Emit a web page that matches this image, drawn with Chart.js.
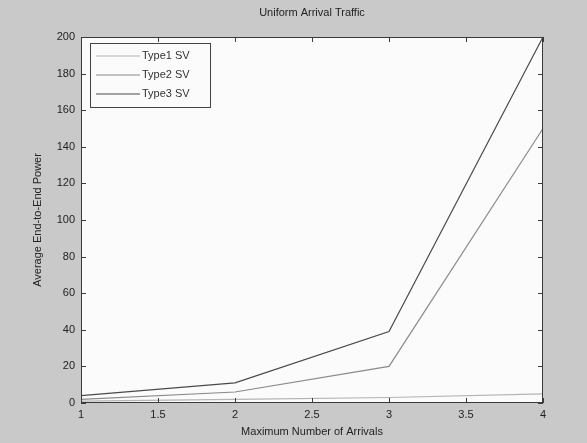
<!DOCTYPE html>
<html>
<head>
<meta charset="utf-8">
<script src="https://cdn.jsdelivr.net/npm/chart.js@4.4.0/dist/chart.umd.min.js"></script>
<style>
  html, body { margin: 0; padding: 0; background: #c9c9c9; }
  canvas { display: block; }
</style>
</head>
<body>
<canvas id="powerChart" width="587" height="443"></canvas>
<script>
// values
const arrivals = [1, 2, 3, 4];
const type1 = [1, 2, 3, 5];
const type2 = [2, 6, 20, 150];
const type3 = [4, 11, 39, 200];
const seriesNames = ['Type1 SV', 'Type2 SV', 'Type3 SV'];
const chartTitle = 'Uniform Arrival Traffic';
const lineColors = ['#b4b4b4', '#8a8a8a', '#4a4a4a'];

const toPoints = (ys) => arrivals.map((x, i) => ({ x: x, y: ys[i] }));

const FONT = { family: 'Liberation Sans, Arial, sans-serif', size: 11 };

// white axes box, MATLAB style inward ticks, title and the legend box
const matlabBox = {
  id: 'matlabBox',
  beforeDraw(chart) {
    const { ctx, chartArea: a } = chart;
    ctx.save();
    ctx.fillStyle = '#fbfbfb';
    ctx.fillRect(a.left, a.top, a.right - a.left, a.bottom - a.top);
    ctx.restore();
  },
  afterDraw(chart) {
    const { ctx, chartArea: a } = chart;
    const xs = chart.scales.x, ys = chart.scales.y;
    ctx.save();
    ctx.strokeStyle = '#3a3a3a';
    ctx.lineWidth = 1;
    ctx.strokeRect(a.left + 0.5, a.top + 0.5, a.right - a.left - 1, a.bottom - a.top - 1);
    ctx.beginPath();
    xs.ticks.forEach(t => {
      const px = Math.round(xs.getPixelForValue(t.value)) + 0.5;
      ctx.moveTo(px, a.bottom); ctx.lineTo(px, a.bottom - 5);
      ctx.moveTo(px, a.top); ctx.lineTo(px, a.top + 5);
    });
    ys.ticks.forEach(t => {
      const py = Math.round(ys.getPixelForValue(t.value)) + 0.5;
      ctx.moveTo(a.left, py); ctx.lineTo(a.left + 5, py);
      ctx.moveTo(a.right, py); ctx.lineTo(a.right - 5, py);
    });
    ctx.stroke();

    ctx.font = FONT.size + 'px ' + FONT.family;
    ctx.fillStyle = '#222';
    ctx.textAlign = 'center';
    ctx.textBaseline = 'middle';
    ctx.fillText(chartTitle, (a.left + a.right) / 2, 13);

    // legend
    const lx = a.left + 9, ly = a.top + 6, lw = 120, lh = 64;
    ctx.fillStyle = '#fbfbfb';
    ctx.fillRect(lx, ly, lw, lh);
    ctx.strokeStyle = '#444';
    ctx.strokeRect(lx + 0.5, ly + 0.5, lw, lh);
    ctx.textAlign = 'left';
    chart.data.datasets.forEach((ds, i) => {
      const y = ly + 13 + i * 19;
      ctx.strokeStyle = ds.borderColor;
      ctx.lineWidth = 1.2;
      ctx.beginPath();
      ctx.moveTo(lx + 6, y); ctx.lineTo(lx + 50, y);
      ctx.stroke();
      ctx.fillStyle = '#333';
      ctx.fillText(ds.label, lx + 52, y);
    });
    ctx.restore();
  }
};

new Chart(document.getElementById('powerChart'), {
  type: 'line',
  data: {
    datasets: [type1, type2, type3].map((ys, i) => ({
      label: seriesNames[i],
      data: toPoints(ys),
      borderColor: lineColors[i],
      borderWidth: 1.2,
      pointRadius: 0,
      tension: 0,
      fill: false
    }))
  },
  options: {
    responsive: false,
    animation: false,
    layout: { padding: { left: 0, right: 44, top: 37, bottom: 0 } },
    plugins: {
      legend: { display: false },
      tooltip: { enabled: false },
      title: { display: false }
    },
    scales: {
      x: {
        type: 'linear',
        min: 1, max: 4,
        ticks: {
          stepSize: 0.5, color: '#222', font: FONT, padding: 5, maxRotation: 0,
          callback: (v) => String(v)
        },
        grid: { display: false, drawTicks: false },
        border: { display: false },
        title: { display: true, text: 'Maximum Number of Arrivals', color: '#222', font: FONT, padding: { top: 2, bottom: 4 } },
        afterFit(scale) { scale.height = 40; }
      },
      y: {
        min: 0, max: 200,
        ticks: { stepSize: 20, color: '#222', font: FONT, padding: 6 },
        grid: { display: false, drawTicks: false },
        border: { display: false },
        title: { display: true, text: 'Average End-to-End Power', color: '#222', font: FONT, padding: { top: 31, bottom: 4 } },
        afterFit(scale) { scale.width = 81; }
      }
    }
  },
  plugins: [matlabBox]
});
</script>
</body>
</html>
